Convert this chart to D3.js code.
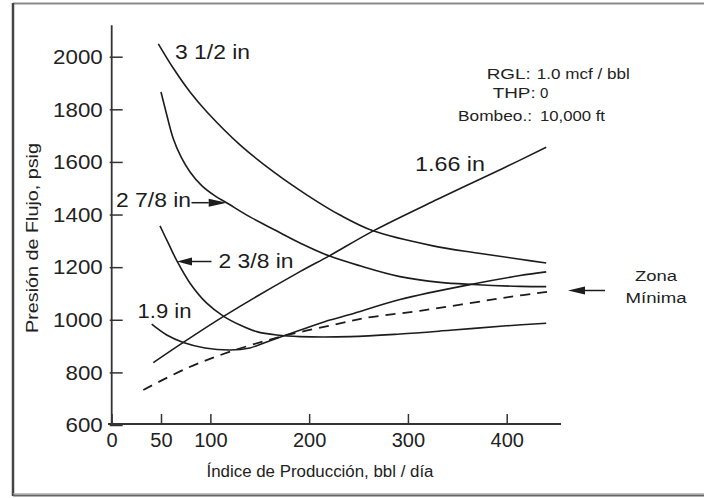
<!DOCTYPE html>
<html><head><meta charset="utf-8">
<script src="https://cdn.jsdelivr.net/npm/d3@7"></script>
<style>
html,body{margin:0;padding:0;background:#fff;}
svg{display:block;font-family:'Liberation Sans',Arial,sans-serif;}
</style>
</head><body>
<svg id="c" width="704" height="498"></svg>
<script>
// ---- data ----
const xTickValues = [0, 50, 100, 200, 300, 400];
const yTickValues = [600, 800, 1000, 1200, 1400, 1600, 1800, 2000];
// [production rate bbl/day, flowing pressure psig]
const tubing3_5 = [[47.3,2049],[62.5,1956],[79.4,1866],[96.3,1791],[130,1665],[163.7,1563],[197.5,1475],[231.2,1398],[264.7,1338],[325.4,1281],[370,1254],[413.5,1230],[440,1216]];
const tubing2_875 = [[50,1866],[55.1,1790],[62.2,1691],[70.3,1619],[79.4,1562],[91.5,1509],[104.7,1471],[116.8,1444],[140.1,1391],[165.4,1341],[190.7,1292],[220.1,1243],[251.5,1205],[292,1164],[332.5,1142],[366,1134],[413.5,1127],[440,1126]];
const tubing2_375 = [[49,1357],[57.4,1291],[66.5,1221],[79.4,1139],[96.3,1063],[113.1,1014],[130,980],[146.9,955],[167.2,942],[190.7,936],[241.4,936],[292,946],[342.6,960],[400,977],[440,987]];
const tubing1_9 = [[40.6,983],[55.8,942],[72.6,914],[94.6,893],[119.9,885],[140,893],[153.6,911],[173.8,938],[221.1,999],[241.4,1020],[292,1077],[366,1136],[413.5,1168],[440,1182]];
const tubing1_66 = [[42.2,837],[72.6,914],[113.8,1014],[190.7,1183],[220.4,1243],[265,1338],[330,1458],[396,1575],[440,1656]];
const minimumZone = [[32.1,733],[76,815.6],[119.9,878.7],[173.8,938],[234.6,989],[254.8,1005.7],[312.2,1034],[405.1,1088],[442,1107]];
const curveLabels = ["3 1/2 in", "2 7/8 in", "2 3/8 in", "1.9 in", "1.66 in"];
const infoLabels = ["RGL:", "THP:", "Bombeo.:"];
const infoValues = ["1.0 mcf / bbl", "0", "10,000 ft"];

// ---- drawing ----
const svg = d3.select('#c');
const x = d3.scaleLinear().domain([0, 400]).range([111.6, 506.7]);
const y = d3.scaleLinear().domain([600, 2000]).range([425, 56.7]);
const ink = '#1c1c1c';

// outer frame
svg.append('line').attr('x1',13).attr('x2',704).attr('y1',3.5).attr('y2',3.5).attr('stroke','#8a8a8a').attr('stroke-width',2);
svg.append('line').attr('x1',13).attr('x2',13).attr('y1',3).attr('y2',496).attr('stroke','#444').attr('stroke-width',2.5);
svg.append('line').attr('x1',13).attr('x2',704).attr('y1',493.8).attr('y2',493.8).attr('stroke','#aaa').attr('stroke-width',1);
svg.append('line').attr('x1',13).attr('x2',704).attr('y1',495.6).attr('y2',495.6).attr('stroke','#666').attr('stroke-width',2);

// axes
const gx = svg.append('g').attr('transform','translate(0,424)')
  .call(d3.axisBottom(x).tickValues(xTickValues).tickSize(-10).tickPadding(9).tickFormat(d3.format('d')));
gx.select('.domain').remove();
gx.attr('font-family',null).attr('font-size',null);
gx.selectAll('line').attr('stroke','#333').attr('stroke-width',1.5);
gx.selectAll('text').attr('font-size',20).attr('fill','#222');

const gy = svg.append('g').attr('transform','translate(111.7,0)')
  .call(d3.axisLeft(y).tickValues(yTickValues).tickSize(-11).tickPadding(9).tickFormat(d3.format('d')));
gy.select('.domain').remove();
gy.attr('font-family',null).attr('font-size',null);
gy.selectAll('line').attr('stroke','#333').attr('stroke-width',1.5).attr('x1',-2);
gy.selectAll('text').attr('font-size',21).attr('fill','#222')
  .attr('textLength', d => String(d).length * 12.4).attr('lengthAdjust','spacingAndGlyphs');

svg.append('line').attr('x1',108).attr('x2',x(455)).attr('y1',424).attr('y2',424).attr('stroke','#333').attr('stroke-width',1.8);
svg.append('line').attr('x1',111.7).attr('x2',111.7).attr('y1',y(2120)).attr('y2',425).attr('stroke','#333').attr('stroke-width',1.8);

// axis titles
svg.append('text').attr('x',320).attr('y',476.5).attr('text-anchor','middle')
  .attr('font-size',16).attr('fill','#222').attr('textLength',227).attr('lengthAdjust','spacingAndGlyphs')
  .text('Índice de Producción, bbl / día');
svg.append('text').attr('transform','translate(38,238) rotate(-90)').attr('text-anchor','middle')
  .attr('font-size',16).attr('fill','#222').attr('textLength',190).attr('lengthAdjust','spacingAndGlyphs')
  .text('Presión de Flujo, psig');

// curves
const line = d3.line().x(d => x(d[0])).y(d => y(d[1])).curve(d3.curveCatmullRom.alpha(0.5));
[tubing3_5, tubing2_875, tubing2_375, tubing1_9, tubing1_66].forEach(s => {
  svg.append('path').attr('d', line(s)).attr('fill','none').attr('stroke',ink).attr('stroke-width',1.6);
});
svg.append('path').attr('d', line(minimumZone)).attr('fill','none').attr('stroke',ink)
  .attr('stroke-width',1.8).attr('stroke-dasharray','10,7');

// curve labels
const labelPos = [[175,58.5,75],[116,207,75],[218.5,267.5,75],[137.5,317.5,54],[415,171,70]];
curveLabels.forEach((t,i) => {
  const p = labelPos[i];
  svg.append('text').attr('x',p[0]).attr('y',p[1]).attr('font-size',20).attr('fill',ink)
    .attr('textLength',p[2]).attr('lengthAdjust','spacingAndGlyphs').text(t);
});

// arrows
function arrow(x1, y1, x2, y2, len, half) {
  const ang = Math.atan2(y2 - y1, x2 - x1);
  const bx = x2 - len * Math.cos(ang), by = y2 - len * Math.sin(ang);
  svg.append('line').attr('x1',x1).attr('y1',y1).attr('x2',bx).attr('y2',by).attr('stroke',ink).attr('stroke-width',1.5);
  const px = -Math.sin(ang) * half, py = Math.cos(ang) * half;
  svg.append('path').attr('d',`M${x2},${y2}L${bx+px},${by+py}L${bx-px},${by-py}Z`).attr('fill',ink);
}
arrow(191.5, 202.7, 226.7, 202.7, 18, 4);
arrow(211.5, 261.5, 177, 261.5, 15, 4);
arrow(605, 290.5, 568, 290.5, 17, 4);

// info block
const infoPos = [[486.7,79,44, 536.7,93],[492.7,98,43, 540,null],[458,121,74, 540,65]];
infoLabels.forEach((t,i) => {
  const p = infoPos[i];
  svg.append('text').attr('x',p[0]).attr('y',p[1]).attr('font-size',15).attr('fill','#222')
    .attr('textLength',p[2]).attr('lengthAdjust','spacingAndGlyphs').text(t);
  const v = svg.append('text').attr('x',p[3]).attr('y',p[1]).attr('font-size',15).attr('fill','#222').text(infoValues[i]);
  if (p[4]) v.attr('textLength',p[4]).attr('lengthAdjust','spacingAndGlyphs');
});

// Zona Mínima
svg.append('text').attr('x',635).attr('y',281).attr('font-size',15.5).attr('fill','#222')
  .attr('textLength',42).attr('lengthAdjust','spacingAndGlyphs').text('Zona');
svg.append('text').attr('x',625.5).attr('y',303).attr('font-size',15.5).attr('fill','#222')
  .attr('textLength',61).attr('lengthAdjust','spacingAndGlyphs').text('Mínima');
</script>
</body></html>
